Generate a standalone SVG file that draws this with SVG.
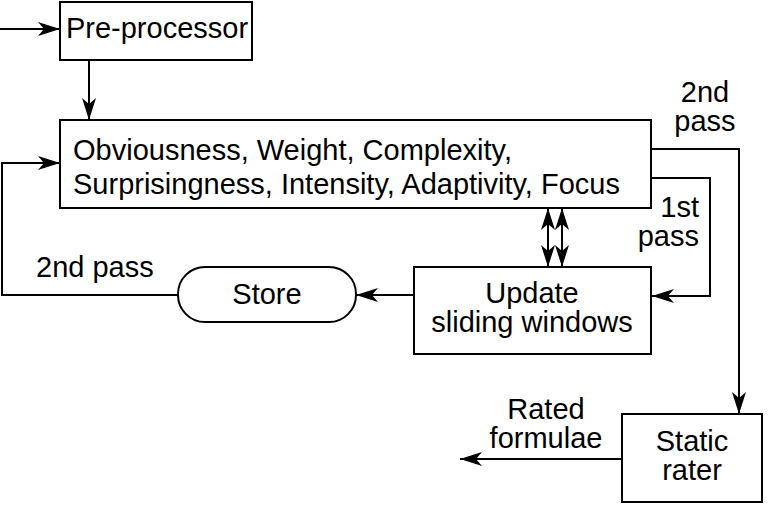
<svg xmlns="http://www.w3.org/2000/svg" width="770" height="505" viewBox="0 0 770 505">
<style>
.box{fill:#fff;stroke:#000;stroke-width:2}
.ln{fill:none;stroke:#000;stroke-width:2}
text{font-family:"Liberation Sans",Arial,sans-serif;font-size:29px;fill:#000}
.m{text-anchor:middle}
.e{text-anchor:end}
</style>
<defs>
<marker id="ah" viewBox="0 0 22 14" refX="22" refY="7" markerWidth="22" markerHeight="14" markerUnits="userSpaceOnUse" orient="auto-start-reverse">
<path d="M0,0 L22,7 L0,14 L6,7 Z" fill="#000"/>
</marker>
</defs>
<rect width="770" height="505" fill="#fff"/>
<g id="connectors">
<line class="ln" x1="0" y1="29" x2="60" y2="29" marker-end="url(#ah)"/>
<line class="ln" x1="89" y1="60" x2="89" y2="120" marker-end="url(#ah)"/>
<polyline class="ln" points="178,295 2,295 2,163 60,163" marker-end="url(#ah)"/>
<line class="ln" x1="414" y1="295" x2="356" y2="295" marker-end="url(#ah)"/>
<line class="ln" x1="548" y1="208" x2="548" y2="267" marker-start="url(#ah)" marker-end="url(#ah)"/>
<line class="ln" x1="562" y1="208" x2="562" y2="267" marker-start="url(#ah)" marker-end="url(#ah)"/>
<polyline class="ln" points="651,178 710,178 710,296 652,296" marker-end="url(#ah)"/>
<polyline class="ln" points="651,149 739,149 739,414" marker-end="url(#ah)"/>
<line class="ln" x1="622" y1="459" x2="460" y2="459" marker-end="url(#ah)"/>
<text x="36" y="277">2nd pass</text>
<text class="m"><tspan x="705" y="102">2nd</tspan><tspan x="705" y="131">pass</tspan></text>
<text class="e"><tspan x="699" y="217">1st</tspan><tspan x="699" y="246">pass</tspan></text>
<text class="m"><tspan x="546" y="419">Rated</tspan><tspan x="546" y="448">formulae</tspan></text>
</g>
<g id="preprocessor">
<rect class="box" x="60" y="2" width="192" height="58"/>
<text class="m" x="157" y="38">Pre-processor</text>
</g>
<g id="measures">
<rect class="box" x="60" y="120" width="591" height="88"/>
<text><tspan x="73" y="160">Obviousness, Weight, Complexity,</tspan><tspan x="73" y="194">Surprisingness, Intensity, Adaptivity, Focus</tspan></text>
</g>
<g id="store">
<rect class="box" x="178" y="267" width="178" height="55" rx="27" ry="27"/>
<text class="m" x="267" y="304">Store</text>
</g>
<g id="update">
<rect class="box" x="414" y="267" width="237" height="87"/>
<text class="m"><tspan x="532" y="303">Update</tspan><tspan x="532" y="332">sliding windows</tspan></text>
</g>
<g id="rater">
<rect class="box" x="622" y="414" width="140" height="88"/>
<text class="m"><tspan x="692" y="451">Static</tspan><tspan x="692" y="480">rater</tspan></text>
</g>
</svg>
